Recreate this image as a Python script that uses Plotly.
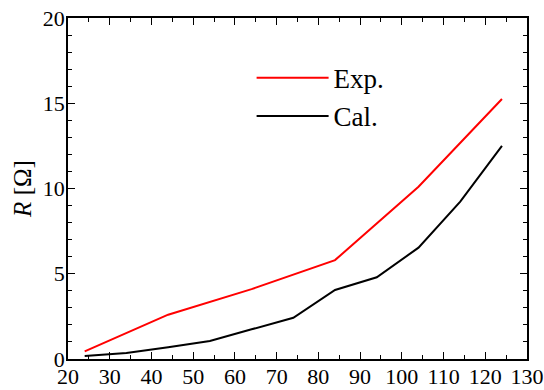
import plotly.graph_objects as go

exp_x = [24, 44, 64, 84, 104, 124]
exp_y = [0.45, 2.6, 4.1, 5.8, 10.1, 15.25]

cal_x = [24, 34, 44, 54, 64, 74, 84, 94, 104, 114, 124]
cal_y = [0.18, 0.35, 0.69, 1.06, 1.74, 2.42, 4.05, 4.79, 6.53, 9.23, 12.5]

x_ticks = [20, 30, 40, 50, 60, 70, 80, 90, 100, 110, 120, 130]
y_ticks = [0, 5, 10, 15, 20]

FONT = "'Liberation Serif', 'Times New Roman', 'DejaVu Serif', serif"

fig = go.Figure()
fig.add_trace(go.Scatter(x=exp_x, y=exp_y, mode="lines", name="Exp.",
                         line=dict(color="#ff0000", width=2)))
fig.add_trace(go.Scatter(x=cal_x, y=cal_y, mode="lines", name="Cal.",
                         line=dict(color="#000000", width=2)))

axis_common = dict(
    showgrid=False, zeroline=False, showline=True, linecolor="black",
    linewidth=1.5, mirror="allticks", ticks="inside", ticklen=7,
    tickwidth=1.2, tickcolor="black", automargin=False,
    tickfont=dict(family=FONT, size=22, color="black"),
    ticklabelstandoff=-3,
)

fig.update_layout(
    width=544, height=390,
    margin=dict(l=68, r=17, t=18, b=31),
    paper_bgcolor="white", plot_bgcolor="white",
    font=dict(family=FONT, color="black"),
    showlegend=True,
    legend=dict(x=0.40, y=0.895, xanchor="left", yanchor="top",
                bgcolor="rgba(0,0,0,0)", font=dict(family=FONT, size=27),
                itemwidth=72, tracegroupgap=0),
)
fig.update_xaxes(range=[20, 130], tickvals=x_ticks,
                 ticktext=[str(v) for v in x_ticks],
                 minor=dict(dtick=5, ticks="inside", ticklen=4, tickwidth=1, tickcolor="black"),
                 **axis_common)
fig.update_yaxes(range=[0, 20], tickvals=y_ticks,
                 ticktext=[str(v) for v in y_ticks],
                 minor=dict(dtick=1, ticks="inside", ticklen=4, tickwidth=1, tickcolor="black"),
                 title=dict(text="<i>R</i> [Ω]", font=dict(family=FONT, size=25), standoff=4),
                 **axis_common)

fig.write_html("out.html", config={"displayModeBar": False},
               post_script="document.body.style.margin='0';document.body.style.padding='0';")
